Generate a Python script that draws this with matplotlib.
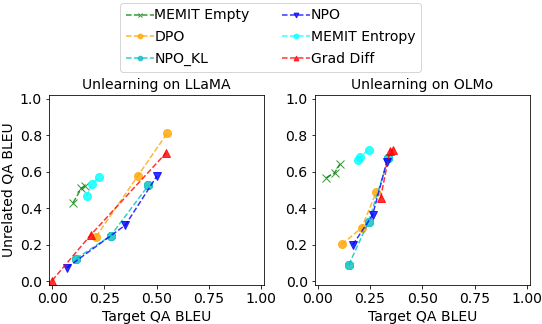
import numpy as np
import matplotlib.pyplot as plt

methods = ['MEMIT Empty', 'DPO', 'NPO_KL', 'NPO', 'MEMIT Entropy', 'Grad Diff']
colors = ['green', 'orange', 'c', 'blue', 'cyan', 'red']
markers = ['x', 'o', '8', 'v', 'o', '^']

# (target QA BLEU, unrelated QA BLEU) per method
llama_target = {
    'MEMIT Empty': [0.10, 0.14, 0.155],
    'DPO': [0.21, 0.41, 0.55],
    'NPO_KL': [0.115, 0.28, 0.46],
    'NPO': [0.07, 0.35, 0.50],
    'MEMIT Entropy': [0.165, 0.19, 0.225],
    'Grad Diff': [0.0, 0.185, 0.545],
}
llama_unrelated = {
    'MEMIT Empty': [0.43, 0.51, 0.52],
    'DPO': [0.245, 0.578, 0.81],
    'NPO_KL': [0.125, 0.25, 0.525],
    'NPO': [0.075, 0.308, 0.575],
    'MEMIT Entropy': [0.465, 0.535, 0.571],
    'Grad Diff': [0.005, 0.255, 0.703],
}
olmo_target = {
    'MEMIT Empty': [0.04, 0.08, 0.105],
    'DPO': [0.115, 0.21, 0.28],
    'NPO_KL': [0.148, 0.243, 0.338],
    'NPO': [0.167, 0.262, 0.329],
    'MEMIT Entropy': [0.194, 0.20, 0.243],
    'Grad Diff': [0.30, 0.345, 0.36],
}
olmo_unrelated = {
    'MEMIT Empty': [0.567, 0.593, 0.64],
    'DPO': [0.203, 0.294, 0.49],
    'NPO_KL': [0.09, 0.327, 0.673],
    'NPO': [0.20, 0.363, 0.651],
    'MEMIT Entropy': [0.666, 0.678, 0.72],
    'Grad Diff': [0.455, 0.715, 0.72],
}

fig, axes = plt.subplots(1, 2, figsize=(542 / 72, 324 / 72), dpi=72)
fig.subplots_adjust(left=0.0904, right=0.978, top=0.707, bottom=0.12, wspace=0.233)

panels = [('Unlearning on LLaMA', llama_target, llama_unrelated),
          ('Unlearning on OLMo', olmo_target, olmo_unrelated)]

for ax, (title, tx, ty) in zip(axes, panels):
    for m, c, mk in zip(methods, colors, markers):
        ax.plot(tx[m], ty[m], linestyle='--', color=c, marker=mk, markersize=8,
                alpha=0.8, label=m)
    ax.set_title(title, fontsize=14)
    ax.set_xlim(-0.015, 1.015)
    ax.set_ylim(-0.02, 1.02)
    ax.set_xticks([0, 0.25, 0.5, 0.75, 1.0])
    ax.set_yticks([0, 0.2, 0.4, 0.6, 0.8, 1.0])
    ax.tick_params(labelsize=14)
    ax.set_xlabel('Target QA BLEU', fontsize=14)

axes[0].set_ylabel('Unrelated QA BLEU', fontsize=14)

handles, labels = axes[0].get_legend_handles_labels()
fig.legend(handles, labels, loc='upper center', ncol=2, fontsize=14,
           bbox_to_anchor=(0.499, 1.0), numpoints=1, markerscale=0.6,
           borderaxespad=0.2, handletextpad=0.05, columnspacing=2.3,
           labelspacing=0.55)

plt.savefig('out.png')
